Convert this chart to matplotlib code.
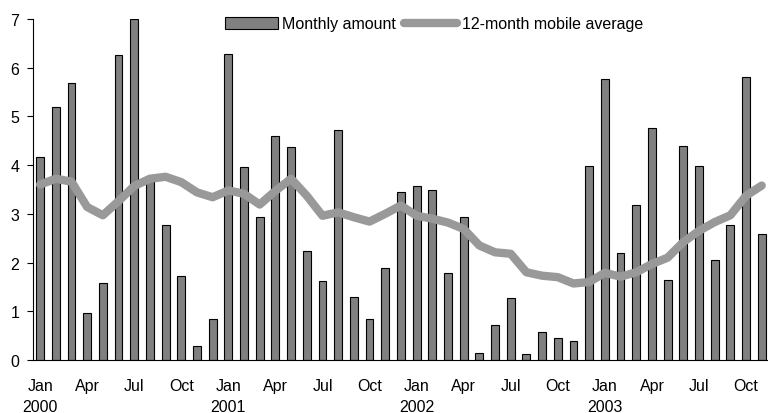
import matplotlib
matplotlib.use("Agg")
import matplotlib.pyplot as plt
import numpy as np

plt.rcParams['font.family'] = ['Liberation Sans', 'DejaVu Sans']

# Monthly values Jan 2000 - Nov 2003
monthly = [4.17, 5.20, 5.68, 0.96, 1.57, 6.25, 7.00, 3.68, 2.77, 1.72, 0.29, 0.85,
           6.27, 3.97, 2.93, 4.60, 4.37, 2.23, 1.62, 4.72, 1.30, 0.84, 1.88, 3.44,
           3.57, 3.49, 1.79, 2.93, 0.14, 0.71, 1.27, 0.13, 0.58, 0.45, 0.38, 3.99,
           5.76, 2.19, 3.18, 4.76, 1.65, 4.40, 3.99, 2.05, 2.78, 5.81, 2.58]
mobile_avg = [3.60, 3.72, 3.66, 3.14, 2.97, 3.26, 3.57, 3.72, 3.76, 3.65, 3.44, 3.34,
              3.48, 3.41, 3.19, 3.47, 3.72, 3.37, 2.96, 3.03, 2.93, 2.84, 3.00, 3.17,
              2.96, 2.90, 2.82, 2.69, 2.35, 2.21, 2.18, 1.80, 1.73, 1.70, 1.57, 1.60,
              1.79, 1.71, 1.80, 1.97, 2.10, 2.42, 2.65, 2.83, 2.97, 3.37, 3.58]
months = ["Jan", "Apr", "Jul", "Oct"]
years = ["2000", "2001", "2002", "2003"]

x = np.arange(len(monthly))
tick_pos = []
tick_lab = []
for i, yr in enumerate(years):
    for j, m in enumerate(months):
        k = i * 12 + j * 3
        if k < len(monthly):
            tick_pos.append(k)
            tick_lab.append(m + "\n" + yr if j == 0 else m)

fig = plt.figure(figsize=(7.68, 4.14), dpi=100)
ax = fig.add_axes([0.043, 0.128, 0.957, 0.824])

bars = ax.bar(x, monthly, width=0.5, color="#808080", edgecolor="black", linewidth=0.8,
              zorder=2)
line, = ax.plot(x, mobile_avg, color="#999999", linewidth=6, solid_capstyle="round",
                zorder=3)

ax.set_xlim(-0.45, 46.4)
ax.set_ylim(0, 7)
ax.set_yticks(range(8))
ax.set_xticks(tick_pos)
ax.set_xticklabels(tick_lab, fontsize=11.5, linespacing=1.5)
ax.tick_params(axis="y", labelsize=11.5, direction="out", length=4, pad=6)
ax.tick_params(axis="x", length=0, pad=13)
ax.spines["top"].set_visible(False)
ax.spines["right"].set_visible(False)

fig.legend([bars, line], ["Monthly amount", "12-month mobile average"],
           loc="center", bbox_to_anchor=(434 / 768, 1 - 25 / 414), ncol=2, frameon=False,
           fontsize=11.5, handlelength=3.3, handleheight=0.8, handletextpad=0.3,
           columnspacing=0.5, borderpad=0)

fig.savefig("out.png", dpi=100)
